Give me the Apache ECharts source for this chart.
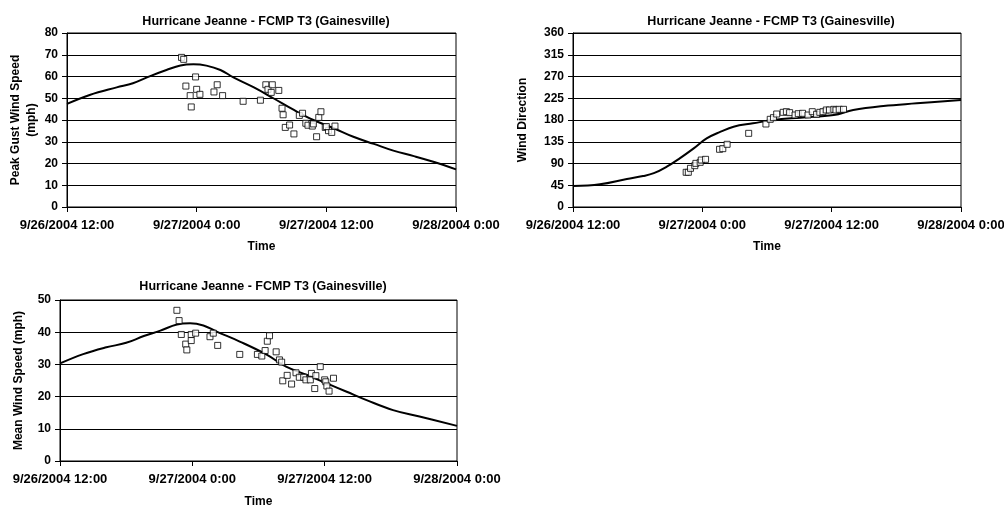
<!DOCTYPE html>
<html>
<head>
<meta charset="utf-8">
<script src="https://cdn.jsdelivr.net/npm/echarts@6/dist/echarts.min.js"></script>
<style>
  html, body { margin: 0; padding: 0; background: #fff; }
  #main { width: 1004px; height: 508px; }
</style>
</head>
<body>
<div id="main"></div>
<script>
// hours after 9/26/2004 12:00
const timeTicks = ['9/26/2004 12:00', '9/27/2004 0:00', '9/27/2004 12:00', '9/28/2004 0:00'];
const chartTitle = 'Hurricane Jeanne - FCMP T3 (Gainesville)';

// peak gust (mph): model line and measured points
const gustModel = [
  [0, 47.4], [2.1, 51.5], [4.6, 55], [6.1, 56.9], [7.7, 60.2], [9.2, 63], [10.5, 65.1],
  [11.7, 65.6], [12.9, 65], [14.2, 63], [15.4, 59.6], [17.3, 55], [19.1, 50], [21, 44.6],
  [22.8, 40], [24.7, 36.2], [26.5, 32.3], [28.4, 29], [30.2, 25.9], [32.1, 23.4], [33.9, 20.8], [36, 17.3]
];
const gustObs = [
  [10.6, 68.8], [10.8, 67.9], [11.0, 55.6], [11.4, 51.2], [11.5, 46], [11.9, 59.8], [12.0, 54.1],
  [12.3, 51.8], [13.6, 52.9], [13.9, 56.2], [14.4, 51.2], [16.3, 48.6], [17.9, 49.1], [18.4, 56.2],
  [18.6, 54.1], [18.9, 52.7], [19.0, 56.2], [19.6, 53.6], [19.9, 45.4], [20.0, 42.4], [20.2, 36.6],
  [20.6, 37.7], [21.0, 33.6], [21.5, 42.1], [21.8, 43.1], [22.1, 38.5], [22.3, 37.6], [22.7, 37.2],
  [22.8, 38.2], [23.1, 32.3], [23.3, 41.2], [23.5, 43.8], [23.9, 36.6], [24.2, 35.1], [24.5, 34.3],
  [24.8, 37.2], [24.0, 37.0]
];

// wind direction (deg)
const dirModel = [
  [0, 43.4], [2.5, 47], [5, 58], [6.5, 64], [7.5, 70], [8.7, 83.4], [9.9, 100.7], [11.2, 121.4],
  [12.4, 142], [13.7, 155.8], [14.9, 166.2], [16.7, 173.1], [18.6, 180], [21.1, 184.8],
  [24.2, 190.3], [26, 200.7], [28.8, 209], [31.9, 214.5], [36, 221.4]
];
const dirObs = [
  [10.5, 71.8], [10.7, 71.8], [10.9, 80], [11.3, 85.5], [11.4, 90.3], [11.8, 92.4], [11.9, 97.2],
  [12.3, 98.6], [13.6, 119.4], [13.9, 120.7], [14.3, 129.7], [16.3, 152.4], [17.9, 171.7],
  [18.3, 181.4], [18.6, 184.8], [18.9, 192.4], [19.5, 195.9], [19.8, 197.2], [20.1, 195.2],
  [20.6, 190.3], [20.9, 193.1], [21.3, 193.9], [21.8, 190.3], [22.2, 197.2], [22.6, 191.8],
  [22.9, 195.9], [23.2, 197.2], [23.5, 200.7], [23.8, 200.7], [24.2, 202.1], [24.4, 200.7],
  [24.7, 202.1], [25.1, 202.1]
];

// mean wind speed (mph)
const meanModel = [
  [0, 30.3], [2.1, 33.2], [4.2, 35.3], [6, 36.7], [7.6, 38.8], [9.1, 40.5], [10.6, 42.4],
  [11.8, 42.8], [13, 42.1], [14.2, 40.2], [16.3, 37.1], [18.7, 33.1], [20.5, 29.3], [22.4, 26.7],
  [24.2, 24.1], [26, 21.5], [27.8, 18.9], [30.2, 15.8], [32.6, 13.8], [36, 10.9]
];
const meanObs = [
  [10.6, 46.8], [10.8, 43.6], [11.0, 39.3], [11.4, 36.3], [11.5, 34.5], [11.9, 37.4], [11.9, 39.3],
  [12.3, 39.7], [13.6, 38.6], [13.9, 39.7], [14.3, 35.9], [16.3, 33.1], [17.9, 33.1], [18.3, 32.6],
  [18.6, 34.3], [18.8, 37.2], [19.0, 38.9], [19.6, 33.9], [19.9, 31.4], [20.1, 30.7], [20.2, 24.9],
  [20.6, 26.6], [21.0, 23.9], [21.4, 27.4], [21.7, 26], [22.1, 26], [22.3, 25.2], [22.7, 25.2],
  [22.8, 27.2], [23.1, 22.5], [23.2, 26.5], [23.6, 29.3], [24.0, 25.2], [24.1, 24.6], [24.2, 23.3],
  [24.4, 21.7], [24.8, 25.7]
];

const font = 'Liberation Sans, Arial, sans-serif';
const myChart = echarts.init(document.getElementById('main'));

const panels = [
  { grid: { left: 67, top: 33, width: 389, height: 174 }, yMax: 80, yStep: 10,
    yName: 'Peak Gust Wind Speed\n(mph)', yGap: 27, model: gustModel, obs: gustObs, titleX: 261, titleY: 10 },
  { grid: { left: 573, top: 33, width: 388, height: 174 }, yMax: 360, yStep: 45,
    yName: 'Wind Direction', yGap: 42, model: dirModel, obs: dirObs, titleX: 766, titleY: 10 },
  { grid: { left: 60, top: 300, width: 397, height: 161 }, yMax: 50, yStep: 10,
    yName: 'Mean Wind Speed (mph)', yGap: 33, model: meanModel, obs: meanObs, titleX: 258, titleY: 275 }
];

const option = {
  backgroundColor: '#fff',
  animation: false,
  title: panels.map(p => ({
    text: chartTitle,
    left: p.titleX,
    top: p.titleY,
    textAlign: 'center',
    textStyle: { fontFamily: font, fontSize: 12.5, fontWeight: 'bold', color: '#000' }
  })),
  grid: panels.map(p => Object.assign({
    show: true, borderColor: '#000', borderWidth: 1,
    containLabel: false, outerBoundsMode: 'none'
  }, p.grid)),
  xAxis: panels.map((p, i) => ({
    type: 'value',
    gridIndex: i,
    min: 0,
    max: 36,
    interval: 12,
    name: 'Time',
    nameLocation: 'middle',
    nameGap: i === 2 ? 35 : 34,
    nameTextStyle: { fontFamily: font, fontSize: 12, fontWeight: 'bold', color: '#000' },
    axisLine: { lineStyle: { color: '#000', width: 1 } },
    axisTick: { show: true, length: 5, lineStyle: { color: '#000' } },
    splitLine: { show: false },
    axisLabel: {
      margin: 12,
      fontFamily: font, fontSize: 13, fontWeight: 'bold', color: '#000',
      showMinLabel: true, showMaxLabel: true,
      formatter: v => timeTicks[Math.round(v / 12)]
    }
  })),
  yAxis: panels.map((p, i) => ({
    type: 'value',
    gridIndex: i,
    min: 0,
    max: p.yMax,
    interval: p.yStep,
    name: p.yName,
    nameLocation: 'middle',
    nameRotate: 90,
    nameGap: p.yGap,
    nameTextStyle: { fontFamily: font, fontSize: 12, fontWeight: 'bold', color: '#000', lineHeight: 16 },
    axisLine: { show: true, lineStyle: { color: '#000', width: 1 } },
    axisTick: { show: true, length: 5, lineStyle: { color: '#000' } },
    splitLine: { show: true, lineStyle: { color: '#000', width: 1 } },
    axisLabel: { margin: 9, fontFamily: font, fontSize: 12, fontWeight: 'bold', color: '#000' }
  })),
  series: []
};

panels.forEach((p, i) => {
  option.series.push({
    type: 'line',
    xAxisIndex: i,
    yAxisIndex: i,
    data: p.model,
    smooth: 0.4,
    showSymbol: false,
    lineStyle: { color: '#000', width: 2 },
    z: 3
  });
  option.series.push({
    type: 'scatter',
    xAxisIndex: i,
    yAxisIndex: i,
    data: p.obs,
    symbol: 'rect',
    symbolSize: 6,
    itemStyle: { color: '#fff', borderColor: '#000', borderWidth: 1 },
    z: 4
  });
});

myChart.setOption(option);
</script>
</body>
</html>
